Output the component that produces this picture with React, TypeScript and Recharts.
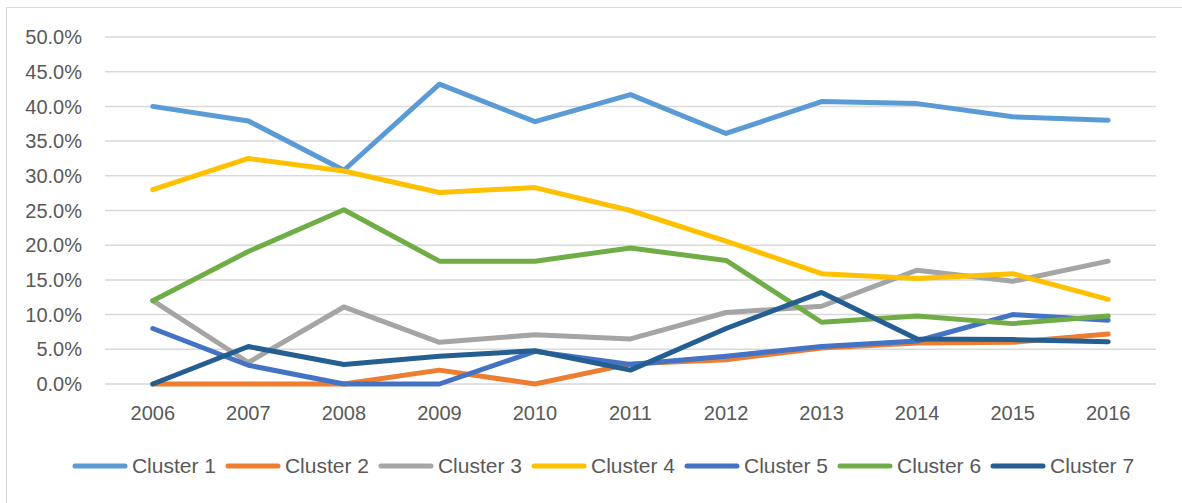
import { CartesianGrid, Legend, Line, LineChart, XAxis, YAxis } from "recharts";

const years = ["2006", "2007", "2008", "2009", "2010", "2011", "2012", "2013", "2014", "2015", "2016"];

const cluster1 = [40.0, 37.9, 30.8, 43.2, 37.8, 41.7, 36.1, 40.7, 40.4, 38.5, 38.0];
const cluster2 = [0, 0, 0, 2.0, 0, 2.9, 3.5, 5.2, 5.9, 6.0, 7.2];
const cluster3 = [12.0, 3.1, 11.1, 6.0, 7.1, 6.5, 10.3, 11.2, 16.4, 14.8, 17.7];
const cluster4 = [28.0, 32.5, 30.7, 27.6, 28.3, 25.0, 20.6, 15.9, 15.2, 15.9, 12.2];
const cluster5 = [8.0, 2.7, 0, 0, 4.7, 2.8, 4.0, 5.4, 6.2, 10.0, 9.2];
const cluster6 = [12.0, 19.1, 25.1, 17.7, 17.7, 19.6, 17.8, 8.9, 9.8, 8.7, 9.8];
const cluster7 = [0, 5.4, 2.8, 4.0, 4.8, 2.0, 8.0, 13.2, 6.5, 6.4, 6.1];

const yTicks = [0, 5, 10, 15, 20, 25, 30, 35, 40, 45, 50];

const series = [
  { key: "Cluster 1", values: cluster1, color: "#5B9BD5" },
  { key: "Cluster 2", values: cluster2, color: "#ED7D31" },
  { key: "Cluster 3", values: cluster3, color: "#A5A5A5" },
  { key: "Cluster 4", values: cluster4, color: "#FFC000" },
  { key: "Cluster 5", values: cluster5, color: "#4472C4" },
  { key: "Cluster 6", values: cluster6, color: "#70AD47" },
  { key: "Cluster 7", values: cluster7, color: "#255E91" },
];

const data = years.map((year, i) => {
  const row: Record<string, string | number> = { year };
  series.forEach((s) => {
    row[s.key] = s.values[i];
  });
  return row;
});

const FONT = "'Liberation Sans', Arial, sans-serif";
const TEXT = "#595959";

function renderLegend() {
  return (
    <div style={{ display: "flex", justifyContent: "center", alignItems: "center", gap: 9 }}>
      {series.map((s) => (
        <div key={s.key} style={{ display: "flex", alignItems: "center", gap: 4 }}>
          <svg width={56} height={8}>
            <line x1={3} y1={4} x2={53} y2={4} stroke={s.color} strokeWidth={5} strokeLinecap="round" />
          </svg>
          <span style={{ fontFamily: FONT, fontSize: 21, color: TEXT }}>{s.key}</span>
        </div>
      ))}
    </div>
  );
}

export default function App() {
  return (
    <div
      style={{
        position: "fixed",
        left: 0,
        top: 0,
        width: 1182,
        height: 503,
        overflow: "hidden",
        background: "#fff",
      }}
    >
      <div
        style={{
          position: "absolute",
          left: 6,
          top: 7,
          width: 1200,
          height: 520,
          border: "1px solid #d9d9d9",
        }}
      />
      <div style={{ position: "absolute", left: 0, top: 0 }}>
        <LineChart width={1182} height={503} data={data} margin={{ top: 37, right: 26, left: 0, bottom: 65 }}>
          <CartesianGrid vertical={false} stroke="#d9d9d9" strokeWidth={1.5} />
          <XAxis
            dataKey="year"
            height={30}
            padding={{ left: 47.8, right: 47.8 }}
            axisLine={false}
            tickLine={false}
            tickSize={0}
            tickMargin={22}
            tick={{ fill: TEXT, fontSize: 20, fontFamily: FONT }}
          />
          <YAxis
            width={105}
            domain={[0, 50]}
            ticks={yTicks}
            axisLine={false}
            tickLine={false}
            tickSize={0}
            tickMargin={23}
            tickFormatter={(v: number) => `${v.toFixed(1)}%`}
            tick={{ fill: TEXT, fontSize: 20, fontFamily: FONT }}
          />
          <Legend content={renderLegend} wrapperStyle={{ top: 454, left: 12, width: 1182 }} />
          {series.map((s) => (
            <Line
              key={s.key}
              dataKey={s.key}
              stroke={s.color}
              strokeWidth={5}
              strokeLinecap="round"
              strokeLinejoin="round"
              dot={false}
              activeDot={false}
              isAnimationActive={false}
            />
          ))}
        </LineChart>
      </div>
    </div>
  );
}
